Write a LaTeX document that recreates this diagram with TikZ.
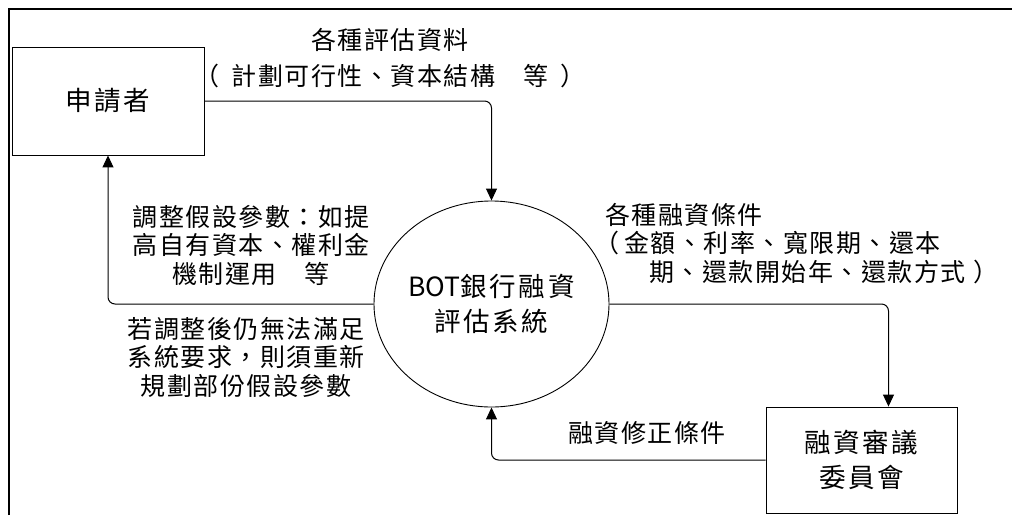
\documentclass[tikz,border=0pt]{standalone}
\usepackage{fontspec}
\newfontfamily\cjk{Noto Sans CJK TC}[LetterSpace=6]
\newfontfamily\cjkwide{Noto Sans CJK TC}[LetterSpace=10]
\newfontfamily\cjkplain{Noto Sans CJK TC}
\usetikzlibrary{arrows.meta,shapes.geometric}
\begin{document}
\begin{tikzpicture}[x=1pt,y=-1pt,
  conn/.style={draw, line width=1pt, rounded corners=7pt, -{Triangle[length=12pt,width=11pt]}},
  boxnode/.style={draw, line width=0.9pt, inner sep=0pt, font=\cjkwide\fontsize{26.5}{35}\selectfont, align=center},
  lbl/.style={inner sep=0pt, font=\cjk\fontsize{25}{28.5}\selectfont, align=center},
  lblw/.style={lbl, anchor=west}]
\useasboundingbox (0,0) rectangle (1012,515);
\draw[line width=1.7pt] (9,515) -- (9,9) -- (1012,9);
\node[boxnode, minimum width=192pt, minimum height=108pt] (app) at (108,101) {申請者};
\node[boxnode, minimum width=191pt, minimum height=106pt] (rev) at (861.5,460) {融資審議\\委員會};
\node[draw, line width=0.9pt, ellipse, inner sep=0pt, minimum width=219pt, minimum height=206pt,
      font=\cjkwide\fontsize{26.5}{35}\selectfont, align=center] (sys) at (491.5,304) {{\cjkplain BOT}銀行融資\\評估系統};
\draw[conn] (app.east) -| (sys.north);
\draw[conn] (sys.west) -| (app.south);
\draw[conn] (sys.east) -| ([xshift=27pt]rev.north);
\draw[conn] (rev.west) -| (sys.south);
\node[lbl, font=\cjk\fontsize{25}{36}\selectfont] (t1) at (390,58) {各種評估資料\\（\hspace{12pt}計劃可行性、資本結構　等\hspace{12pt}）};
\node[lbl] (t2) at (251,245) {調整假設參數：如提\\高自有資本、權利金\\機制運用　等};
\node[lbl] (t3) at (246,357) {若調整後仍無法滿足\\系統要求，則須重新\\規劃部份假設參數};
\node[lblw] (r1) at (605,215) {各種融資條件};
\node[lblw] (r2) at (594,243) {（\hspace{5pt}金額、利率、寬限期、還本};
\node[lblw] (r3) at (649,272) {期、還款開始年、還款方式\hspace{8pt}）};
\node[lbl] (fix) at (647,433) {融資修正條件};
\end{tikzpicture}
\end{document}
